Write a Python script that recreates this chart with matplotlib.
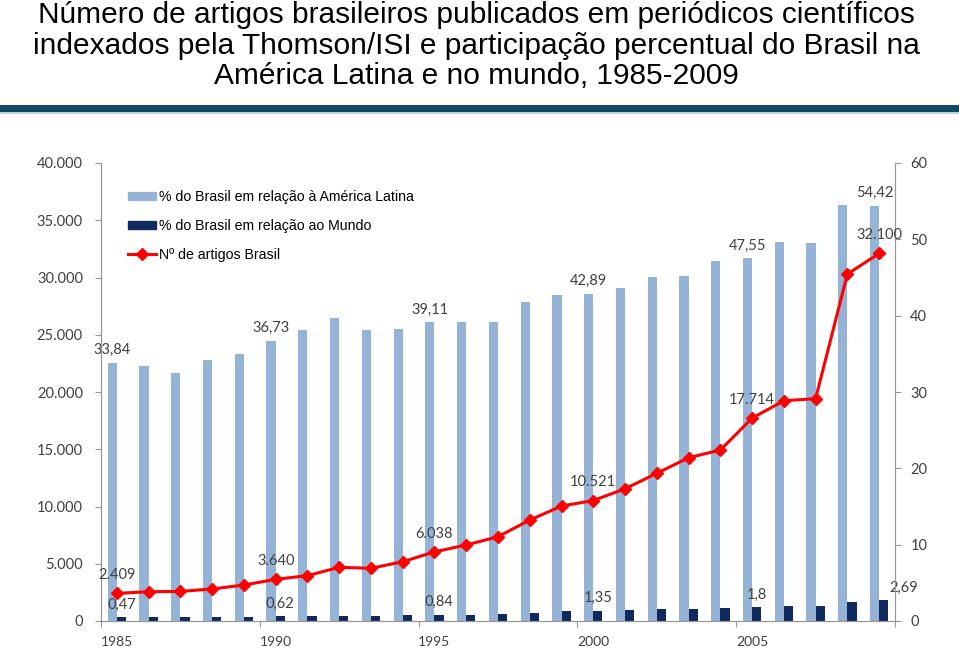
import numpy as np
import matplotlib
matplotlib.use("Agg")
import matplotlib.pyplot as plt
from matplotlib.patches import Rectangle
from matplotlib.lines import Line2D
from matplotlib.ticker import FuncFormatter

# data
years = list(range(1985, 2010))
pct_latam = [33.84, 33.45, 32.55, 34.2, 34.95, 36.73, 38.1, 39.65, 38.1, 38.3,
             39.11, 39.2, 39.2, 41.8, 42.7, 42.89, 43.6, 45.1, 45.2, 47.2,
             47.55, 49.7, 49.5, 54.5, 54.42]
pct_world = [0.47, 0.47, 0.50, 0.50, 0.50, 0.62, 0.64, 0.70, 0.70, 0.74,
             0.84, 0.85, 0.93, 1.10, 1.25, 1.35, 1.45, 1.60, 1.60, 1.70,
             1.80, 1.97, 1.97, 2.55, 2.69]
n_artigos = [2409, 2560, 2580, 2800, 3140, 3640, 3960, 4690, 4600, 5180,
             6038, 6640, 7360, 8820, 10040, 10521, 11550, 12900, 14260, 14930,
             17714, 19240, 19420, 30300, 32100]
labeled_idx = [0, 5, 10, 15, 20, 24]
xtick_labels = ["1985", "1990", "1995", "2000", "2005"]

title = ("Número de artigos brasileiros publicados em periódicos científicos\n"
         "indexados pela Thomson/ISI e participação percentual do Brasil na\n"
         "América Latina e no mundo, 1985-2009")

LIGHT = "#95b3d7"
DARK = "#10295e"
RED = "#ff0000"
GRAY = "#969696"
TXT = "#404040"
LBL_FONT = ["Lato", "DejaVu Sans"]


def fmt_thousands(v, pos=None):
    return f"{int(round(v)):,}".replace(",", ".")


def pt_br(v):
    s = f"{v:.2f}".rstrip("0").rstrip(".")
    return s.replace(".", ",")


fig = plt.figure(figsize=(9.59, 6.48), dpi=100)

# title and band under it
fig.text(0.497, 0.999, title, ha="center", va="top", fontsize=21.5,
         family=["Liberation Sans", "DejaVu Sans"], linespacing=1.13)
fig.add_artist(Rectangle((0, 1 - 112 / 648), 1, 7 / 648, transform=fig.transFigure,
                         color="#0e4a62", lw=0))
fig.add_artist(Rectangle((0, 1 - 114 / 648), 1, 2 / 648, transform=fig.transFigure,
                         color="#bcd3dc", lw=0))

# ax: bars (% axis on the right); ax2: line (count axis on the left)
ax = fig.add_axes([101 / 959, 1 - 621 / 648, 794 / 959, 458 / 648])
ax2 = ax.twinx()

x = np.arange(len(years))
w = 0.29
ax.bar(x - w / 2, pct_latam, width=w, color=LIGHT, lw=0)
ax.bar(x + w / 2, pct_world, width=w, color=DARK, lw=0)
ax2.plot(x, n_artigos, color=RED, lw=2.2, marker="D", ms=6.5, zorder=5)

ax.set_xlim(-0.5, len(years) - 0.5)
ax.set_ylim(0, 60)
ax2.set_ylim(0, 40000)
ax.set_yticks(np.arange(0, 61, 10))
ax2.set_yticks(np.arange(0, 40001, 5000))
ax2.yaxis.set_major_formatter(FuncFormatter(fmt_thousands))

ax.yaxis.tick_right()
ax2.yaxis.tick_left()

# category axis: ticks between groups, labels every five years
ax.set_xticks(np.arange(-0.5, len(years), 5))
ax.set_xticklabels([])
ax.set_xticks(np.arange(0, len(years), 5), minor=True)
ax.set_xticklabels(xtick_labels, minor=True)
ax.tick_params(axis="x", which="minor", length=0, pad=10.5)
ax.tick_params(axis="x", which="major", length=4, color=GRAY, direction="out")
ax.tick_params(axis="y", length=4, color=GRAY, pad=7)
ax2.tick_params(axis="y", length=4, color=GRAY, pad=9)

for a in (ax, ax2):
    for sp in a.spines.values():
        sp.set_color(GRAY)
    a.spines["top"].set_visible(False)
    for lab in a.get_yticklabels():
        lab.set_fontfamily(LBL_FONT)
        lab.set_fontsize(10.5)
        lab.set_color(TXT)
for lab in ax.get_xticklabels(minor=True):
    lab.set_fontfamily(LBL_FONT)
    lab.set_fontsize(10)
    lab.set_color(TXT)

# data labels
for i in labeled_idx:
    ax.annotate(pt_br(pct_latam[i]), (x[i] - w / 2, pct_latam[i]), xytext=(0, 4),
                textcoords="offset points", ha="center", va="bottom",
                fontsize=10.5, color=TXT, family=LBL_FONT)
    dx = 14 if i == 24 else 0
    ax.annotate(pt_br(pct_world[i]), (x[i] + w / 2, pct_world[i]), xytext=(dx, 4),
                textcoords="offset points", ha="center", va="bottom",
                fontsize=10.5, color=TXT, family=LBL_FONT)
    ax2.annotate(fmt_thousands(n_artigos[i]), (x[i], n_artigos[i]), xytext=(0, 8),
                 textcoords="offset points", ha="center", va="bottom",
                 fontsize=10.5, color=TXT, family=LBL_FONT, zorder=6)

handles = [
    Rectangle((0, 0), 1, 1, color=LIGHT),
    Rectangle((0, 0), 1, 1, color=DARK),
    Line2D([], [], color=RED, lw=2.2, marker="D", ms=6),
]
labels = ["% do Brasil em relação à América Latina",
          "% do Brasil em relação ao Mundo",
          "Nº de artigos Brasil"]
ax2.legend(handles, labels, loc="upper left", bbox_to_anchor=(128 / 959, 1 - 190 / 648),
           bbox_transform=fig.transFigure, frameon=False, borderpad=0,
           borderaxespad=0, handlelength=2.0, handleheight=0.5, handletextpad=0.2,
           labelspacing=1.05, prop={"family": ["Liberation Sans", "DejaVu Sans"], "size": 10.2})

fig.savefig("out.png", dpi=100)
